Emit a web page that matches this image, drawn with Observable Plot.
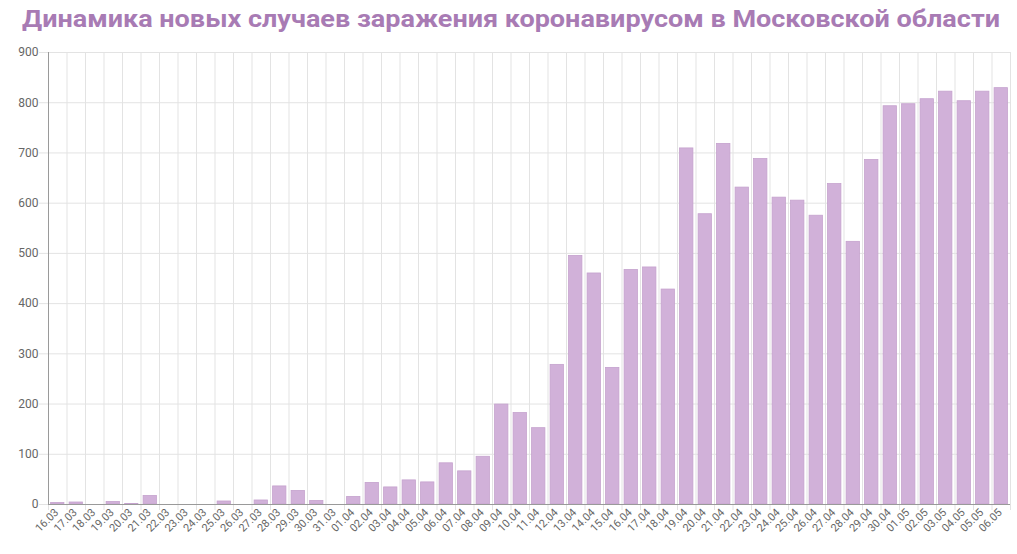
<!DOCTYPE html>
<html>
<head>
<meta charset="utf-8">
<script src="https://cdn.jsdelivr.net/npm/d3@7"></script>
<script src="https://cdn.jsdelivr.net/npm/@observablehq/plot@0.6"></script>
<style>
  html, body { margin: 0; padding: 0; background: #fff; }
  #wrap { width: 1017px; position: relative; }
  #title { height: 45px; position: relative; overflow: visible; }
  #title span {
    position: absolute; left: 22px; top: 7px;
    font-family: Roboto, "Noto Sans", sans-serif; font-weight: 700;
    font-size: 24px; line-height: 24px; color: #a87bb4; white-space: nowrap;
    transform-origin: 0 0;
  }
  svg { display: block; }
</style>
</head>
<body>
<div id="wrap">
  <div id="title"><span id="t">Динамика новых случаев заражения коронавирусом в Московской области</span></div>
  <div id="chart"></div>
</div>
<script>
const dates = [
  "16.03","17.03","18.03","19.03","20.03","21.03","22.03","23.03","24.03","25.03","26.03","27.03","28.03","29.03","30.03","31.03",
  "01.04","02.04","03.04","04.04","05.04","06.04","07.04","08.04","09.04","10.04","11.04","12.04","13.04","14.04","15.04",
  "16.04","17.04","18.04","19.04","20.04","21.04","22.04","23.04","24.04","25.04","26.04","27.04","28.04","29.04","30.04",
  "01.05","02.05","03.05","04.05","05.05","06.05"
];
const values = [
  3, 4, 0, 5, 1, 17, 0, 0, 0, 6, 0, 8, 36, 27, 7, 0,
  15, 43, 34, 48, 44, 82, 66, 95, 199, 182, 152, 278, 495, 460, 272,
  467, 472, 428, 709, 578, 718, 631, 688, 611, 605, 575, 638, 523, 686, 793,
  797, 807, 822, 803, 822, 829
];
const yTicks = [0, 100, 200, 300, 400, 500, 600, 700, 800, 900];

const data = dates.map((d, i) => ({date: d, value: values[i]}));

// title fit
const t = document.getElementById("t");
const w = t.getBoundingClientRect().width;
t.style.transform = `scaleX(${978 / w})`;

const width = 1017, marginLeft = 48, marginRight = 7;
const step = (width - marginLeft - marginRight) / dates.length;

const chart = Plot.plot({
  width, height: 509,
  marginTop: 7, marginBottom: 50, marginLeft, marginRight,
  style: {fontFamily: "Roboto, 'Noto Sans', sans-serif", background: "#fff"},
  x: {type: "band", domain: dates, padding: 0, round: false, label: null},
  y: {domain: [0, 900], label: null},
  marks: [
    Plot.ruleY(yTicks, {stroke: "#e3e3e3", strokeWidth: 1, insetLeft: -9}),
    Plot.ruleX(dates, {x: d => d, dx: -step / 2, stroke: "#e3e3e3", insetBottom: -6}),
    Plot.ruleX([dates[dates.length - 1]], {x: d => d, dx: step / 2, stroke: "#e3e3e3", insetBottom: -6}),
    Plot.barY(data, {x: "date", y: "value", fill: "#d1b1d9", stroke: "#c5a2ce", strokeWidth: 0.8, insetLeft: 2.6, insetRight: 2.6}),
    Plot.ruleY([0], {stroke: "#9a9a9a"}),
    Plot.ruleX([dates[0]], {x: d => d, dx: -step / 2, stroke: "#9a9a9a"}),
    Plot.axisY({ticks: yTicks, tickSize: 0, tickPadding: 10, fontSize: 12, fill: "#666", tickFormat: d => d}),
    Plot.axisX({tickSize: 0, tickRotate: -45, tickPadding: 6, fontSize: 11, fill: "#666", dx: -1})
  ]
});
document.getElementById("chart").appendChild(chart);
</script>
</body>
</html>
